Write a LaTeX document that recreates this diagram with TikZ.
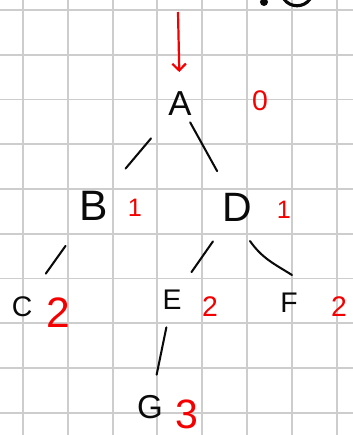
\documentclass[tikz,border=0pt]{standalone}
\usepackage{fontspec}
\setmainfont{Liberation Sans}
\usetikzlibrary{arrows.meta}
\usepackage{xcolor}
\definecolor{gridcolor}{RGB}{205,205,205}
\definecolor{inkcolor}{RGB}{10,10,10}
\definecolor{depthcolor}{RGB}{245,0,0}
\newcommand{\fsz}[1]{\fontsize{#1}{#1}\selectfont}
\def\px{0.0223cm}

\begin{document}
\begin{tikzpicture}[
    x=\px, y=\px,
    >=Straight Barb,
    vertex/.style={text=inkcolor, inner sep=0pt},
    depth/.style={text=depthcolor, inner sep=0pt},
    edge/.style={inkcolor, line width=1.3pt, line cap=round}
]

% Sheet: 353 x 435 (one unit = one pixel of the scan)
\useasboundingbox (0,0) rectangle (353,435);

% Squared paper, one square = 44.8 units
\foreach \k in {0,...,7} {
    \draw[gridcolor, line width=1.2pt] (23+\k*44.8, 0) -- (23+\k*44.8, 435);
}
\foreach \k in {0,...,9} {
    \draw[gridcolor, line width=1.2pt] (0, 425-\k*44.75) -- (353, 425-\k*44.75);
}

% Scribble cut off at the top edge
\fill[inkcolor] (264,433) circle (4);
\draw[inkcolor, line width=2pt] (284,436) .. controls (290,427) and (304,427) .. (310,436);

% Vertices
\node[vertex, font=\fsz{22}] (A) at (180,331) {A};
\node[vertex, font=\fsz{27}] (B) at (94,229) {B};
\node[vertex, font=\fsz{26}] (D) at (237,228) {D};
\node[vertex, font=\fsz{18}] (C) at (22,128) {C};
\node[vertex, font=\fsz{18}] (E) at (172,135) {E};
\node[vertex, font=\fsz{18}] (F) at (289,132) {F};
\node[vertex, font=\fsz{21}] (G) at (150,28) {G};

% Depths
\node[depth, font=\fsz{18}] (dA) at (260,334) {0};
\node[depth, font=\fsz{16}] (dB) at (135,227) {1};
\node[depth, font=\fsz{16}] (dD) at (284,225) {1};
\node[depth, font=\fsz{27}] (dC) at (58,122) {2};
\node[depth, font=\fsz{18}] (dE) at (210,128) {2};
\node[depth, font=\fsz{18}] (dF) at (339,128) {2};
\node[depth, font=\fsz{26}] (dG) at (187,21) {3};

% Start arrow into the root
\coordinate (start) at (178,423);
\draw[->, depthcolor, line width=1.4pt, shorten >={32*\px}] (start) -- (A.center);

% Tree edges: from/to/gap at start/gap at end
\foreach \a/\b/\s/\t in {A/B/45/49, A/D/21/41, B/C/49/41, D/E/42/34, E/G/28/33} {
    \draw[edge, shorten <={\s*\px}, shorten >={\t*\px}] (\a.center) -- (\b.center);
}
\draw[edge] ([shift={(13,-34)}]D.center) to[out=-55, in=148] ([shift={(3,28)}]F.center);

\end{tikzpicture}
\end{document}
